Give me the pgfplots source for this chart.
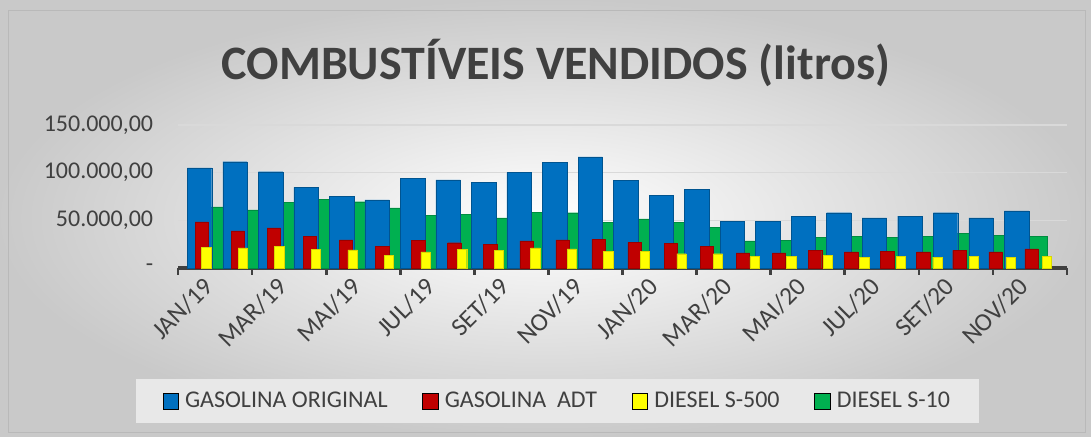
\documentclass[border=0pt]{standalone}
\usepackage{fontspec}
\setmainfont{Carlito}
\usepackage{pgfplots}
\pgfplotsset{compat=1.18}
\usepackage{pgfplotstable}

\definecolor{gOrig}{HTML}{0070C0}
\definecolor{gAdt}{HTML}{C00000}
\definecolor{dQui}{HTML}{FFFF00}
\definecolor{dDez}{HTML}{00B050}
\definecolor{txt}{HTML}{404040}

% litros vendidos por mes
\pgfplotstableread{
mes    gorig  gadt  ds500 ds10
JAN/19 105000 48500 21500 64000
FEV/19 111500 39000 21000 61000
MAR/19 101000 42000 23000 68500
ABR/19 84500  33000 19500 72000
MAI/19 75000  29500 19000 69500
JUN/19 71500  22500 13000 63000
JUL/19 94000  29000 17000 55000
AGO/19 92500  26500 19500 56000
SET/19 89500  25000 18500 52500
OUT/19 100000 28500 21000 58500
NOV/19 111000 29500 20000 58000
DEZ/19 116500 30000 17500 48000
JAN/20 92000  27000 17500 51500
FEV/20 76000  25500 15000 48000
MAR/20 82500  23000 15000 43000
ABR/20 49000  16000 12000 28500
MAI/20 49000  16000 12000 29000
JUN/20 54000  18500 13000 32500
JUL/20 58000  17000 11500 33000
AGO/20 52500  17500 12000 32000
SET/20 54500  17000 11500 33500
OUT/20 58000  18500 12000 36000
NOV/20 52500  17000 11500 34500
DEZ/20 60000  20000 12000 33500
}\dados

\begin{document}
\begin{tikzpicture}
% fundo
\shade[inner color=white, outer color=gray!42] (0pt,0pt) rectangle (818.25pt,327pt);
\draw[gray!55, line width=0.6pt] (6pt,3pt) rectangle (813.75pt,319.5pt);
\node[text=txt, font=\fontsize{36}{40}\selectfont\bfseries] at (417pt,280pt)
  {COMBUSTÍVEIS VENDIDOS (litros)};

\begin{axis}[
    at={(133.5pt,126pt)}, anchor=south west,
    scale only axis,
    width=666.75pt, height=107.25pt,
    xmin=-0.5, xmax=23.5,
    ymin=0, ymax=150000,
    axis lines=left,
    y axis line style={draw=none},
    x axis line style={draw=txt, line width=3pt, -},
    xtick={0,2,...,22},
    xticklabels={JAN/19,MAR/19,MAI/19,JUL/19,SET/19,NOV/19,JAN/20,MAR/20,MAI/20,JUL/20,SET/20,NOV/20},
    x tick label style={rotate=45, anchor=north east, font=\fontsize{19}{21}\selectfont, text=txt, yshift=-2pt, xshift=4pt},
    xtick style={draw=none},
    extra x ticks={-0.5,1.5,...,23.5},
    extra x tick labels={},
    extra x tick style={tick align=outside, major tick length=5pt, xtick style={draw=txt, line width=2pt}, grid=none},
    ytick={0,50000,100000,150000},
    scaled y ticks=false,
    yticklabels={{-\hspace{7.5pt}},{50.000,00},{100.000,00},{150.000,00}},
    y tick label style={font=\fontsize{18}{20}\selectfont, text=txt, xshift=-13pt},
    ytick style={draw=none},
    ymajorgrids,
    grid style={gray!30, line width=0.8pt},
    clip=false,
    legend columns=4,
    legend image code/.code={\fill[#1] (0pt,-6pt) rectangle (11.5pt,6pt);},
    legend style={at={(0.427,-0.93)}, anchor=center, fill=gray!18, draw=none,
        font=\fontsize{18}{20}\selectfont, text=txt,
        inner xsep=20pt, inner ysep=8pt,
        /tikz/every odd column/.append style={column sep=3pt},
        /tikz/every even column/.append style={column sep=24pt}},
]
\addlegendimage{fill=gOrig}
\addlegendentry{GASOLINA ORIGINAL}
\addlegendimage{fill=gAdt}
\addlegendentry{GASOLINA\ \ ADT}
\addlegendimage{fill=dQui}
\addlegendentry{DIESEL S-500}
\addlegendimage{fill=dDez}
\addlegendentry{DIESEL S-10}

\addplot[ybar, bar shift=0pt, bar width=0.55, fill=dDez, draw=dDez!80!black, line width=0.3pt, forget plot]
  table[x expr=\coordindex*0.966+0.47, y=ds10] {\dados};
\addplot[ybar, bar shift=0pt, bar width=0.66, fill=gOrig, draw=gOrig!75!black, line width=0.3pt, forget plot]
  table[x expr=\coordindex*0.959+0.08, y=gorig] {\dados};
\addplot[ybar, bar shift=0pt, bar width=0.36, fill=gAdt, draw=gAdt!80!black, line width=0.3pt, forget plot]
  table[x expr=\coordindex*0.974+0.14, y=gadt] {\dados};
\addplot[ybar, bar shift=0pt, bar width=0.25, fill=dQui, draw=dQui!85!black, line width=0.3pt, forget plot]
  table[x expr=\coordindex*0.987+0.26, y=ds500] {\dados};
\end{axis}
\end{tikzpicture}
\end{document}
